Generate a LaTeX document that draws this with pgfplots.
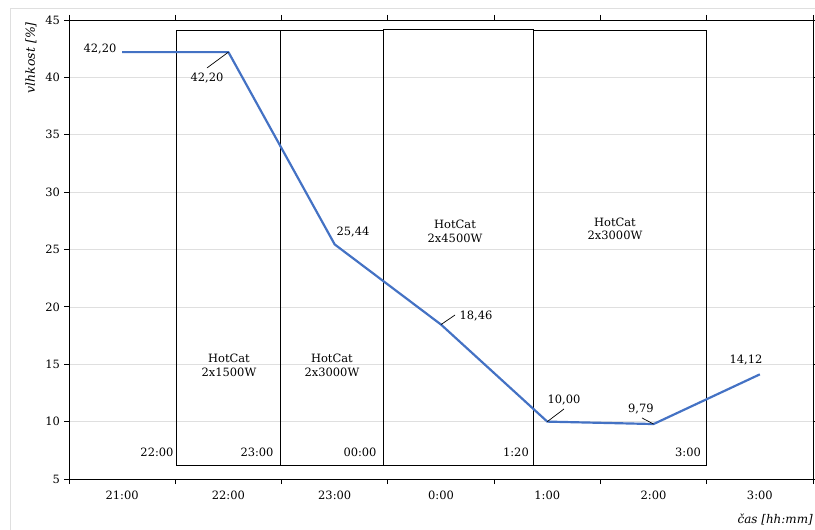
\documentclass[border=0pt]{standalone}
\usepackage{pgfplots}
\pgfplotsset{compat=1.18}
\usepackage{fontspec}
\setmainfont{DejaVu Serif}
\definecolor{xlblue}{RGB}{68,114,196}
\begin{document}
\fontsize{11.5}{14}\selectfont
\begin{tikzpicture}
\begin{axis}[
  at={(69bp,51bp)}, anchor=south west,
  scale only axis, width=744bp, height=459bp,
  xmin=-0.5, xmax=6.5, ymin=5, ymax=45,
  xtick={0,...,6},
  xticklabels={21:00,22:00,23:00,0:00,1:00,2:00,3:00},
  major x tick style={draw=none},
  minor xtick={-0.5,0.5,...,6.5},
  minor tick length=5bp,
  major tick length=5bp,
  tick align=outside,
  ytick={5,10,...,45},
  ymajorgrids, grid style={gray!25, line width=0.6pt},
  axis line style={black, line width=0.9pt},
  tick style={black, line width=0.9pt},
  /pgf/number format/assume math mode=true,
  ticklabel style={font=\fontsize{11.5}{14}\selectfont},
  xticklabel style={yshift=-3bp},
  clip=false,
]
% boxes
\addplot[black, line width=0.9pt] coordinates {(0.51,6.22)(1.485,6.22)(1.485,44.13)(0.51,44.13)(0.51,6.22)};
\addplot[black, line width=0.9pt] coordinates {(1.485,6.22)(2.454,6.22)(2.454,44.13)(1.485,44.13)(1.485,6.22)};
\addplot[black, line width=0.9pt] coordinates {(2.454,6.22)(3.87,6.22)(3.87,44.2)(2.454,44.2)(2.454,6.22)};
\addplot[black, line width=0.9pt] coordinates {(3.87,6.22)(5.502,6.22)(5.502,44.13)(3.87,44.13)(3.87,6.22)};
% data
\addplot[xlblue, line width=2.2pt, line join=round] coordinates {(0,42.2)(1,42.2)(2,25.44)(3,18.46)(4,10)(5,9.79)(6,14.12)};
% leaders
\draw[black, line width=0.7pt] (axis cs:1,42.2) -- (axis cs:0.798,40.82);
\draw[black, line width=0.7pt] (axis cs:3,18.46) -- (axis cs:3.132,19.29);
\draw[black, line width=0.7pt] (axis cs:4,10) -- (axis cs:4.157,11.10);
\draw[black, line width=0.7pt] (axis cs:5,9.79) -- (axis cs:4.891,10.32);
% data labels
\node at (axis cs:-0.208,42.47) {42,20};
\node at (axis cs:0.798,39.95) {42,20};
\node at (axis cs:2.172,26.52) {25,44};
\node at (axis cs:3.329,19.20) {18,46};
\node at (axis cs:4.157,11.88) {10,00};
\node at (axis cs:4.881,11.10) {9,79};
\node at (axis cs:5.869,15.37) {14,12};
% box labels
\node[align=center] at (axis cs:1.005,14.9) {HotCat\\2x1500W};
\node[align=center] at (axis cs:1.974,14.9) {HotCat\\2x3000W};
\node[align=center] at (axis cs:3.132,26.6) {HotCat\\2x4500W};
\node[align=center] at (axis cs:4.637,26.8) {HotCat\\2x3000W};
% time labels
\node at (axis cs:0.328,7.35) {22:00};
\node at (axis cs:1.269,7.35) {23:00};
\node at (axis cs:2.238,7.35) {00:00};
\node at (axis cs:3.705,7.35) {1:20};
\node at (axis cs:5.324,7.35) {3:00};
\end{axis}
\node[rotate=90, anchor=east, inner sep=0pt, font=\itshape\fontsize{12.5}{15}\selectfont] at (31bp,508bp) {vlhkost [\%]};
\node[anchor=east, inner sep=0pt, font=\itshape\fontsize{12}{14}\selectfont] at (813bp,10bp) {čas [hh:mm]};
\draw[gray!25, line width=0.6pt] (10bp,0bp) -- (10bp,522bp) -- (815bp,522bp);
\pgfresetboundingbox
\path[use as bounding box] (0bp,0bp) rectangle (815bp,530bp);
\end{tikzpicture}
\end{document}
